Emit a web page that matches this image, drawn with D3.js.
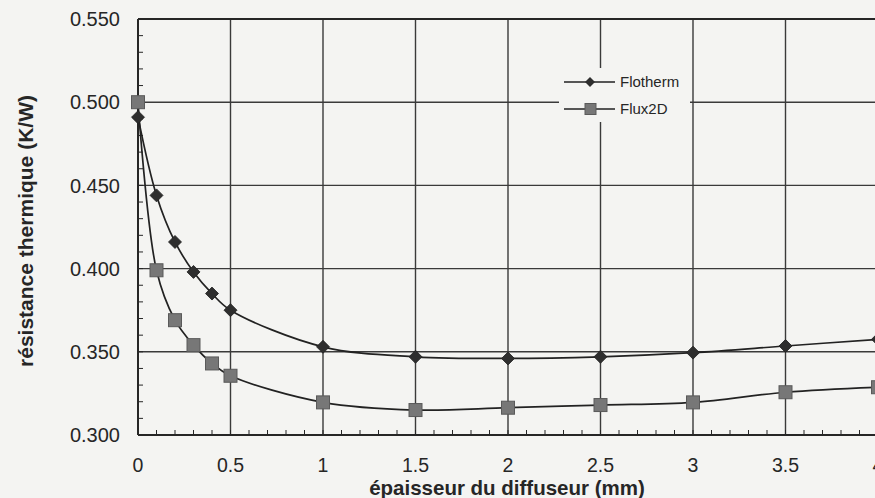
<!DOCTYPE html>
<html><head><meta charset="utf-8">
<script src="https://cdn.jsdelivr.net/npm/d3@7"></script>
<style>
html,body{margin:0;padding:0;background:#f4f4f2;}
svg{display:block;font-family:Arial,"Liberation Sans",sans-serif;}
</style></head>
<body>
<script>
const thickness = [0, 0.1, 0.2, 0.3, 0.4, 0.5, 1, 1.5, 2, 2.5, 3, 3.5, 4];
const flotherm = [0.491, 0.444, 0.416, 0.398, 0.385, 0.375, 0.353, 0.347, 0.346, 0.347, 0.3495, 0.3535, 0.3575];
const flux2d   = [0.500, 0.399, 0.369, 0.354, 0.343, 0.3356, 0.3196, 0.315, 0.3164, 0.318, 0.3196, 0.3257, 0.3287];
const seriesNames = ["Flotherm", "Flux2D"];
const xTicks = [0, 0.5, 1, 1.5, 2, 2.5, 3, 3.5, 4];
const yTicks = [0.300, 0.350, 0.400, 0.450, 0.500, 0.550];
const xTitle = "épaisseur du diffuseur (mm)";
const yTitle = "résistance thermique (K/W)";

const W = 875, H = 498;
const svg = d3.select("body").append("svg").attr("width", W).attr("height", H);
svg.append("rect").attr("width", W).attr("height", H).attr("fill", "#f4f4f2");

const x = d3.scaleLinear().domain([0, 4]).range([138, 878]);
const y = d3.scaleLinear().domain([0.300, 0.550]).range([435, 19]);
const ink = "#262626";

// grid
svg.append("g").selectAll("line").data(xTicks.slice(1)).join("line")
  .attr("x1", d => x(d)).attr("x2", d => x(d)).attr("y1", y(0.55)).attr("y2", y(0.30))
  .attr("stroke", "#3a3a3a").attr("stroke-width", 1.4);
svg.append("g").selectAll("line").data(yTicks.slice(1)).join("line")
  .attr("x1", x(0)).attr("x2", W + 5).attr("y1", d => y(d)).attr("y2", d => y(d))
  .attr("stroke", "#3a3a3a").attr("stroke-width", 1.4);

// minor ticks
const yMinor = d3.range(0.30, 0.5501, 0.01);
svg.append("g").selectAll("line").data(yMinor).join("line")
  .attr("x1", x(0)).attr("x2", x(0) + 5).attr("y1", d => y(d)).attr("y2", d => y(d))
  .attr("stroke", ink).attr("stroke-width", 1);
const xMinor = d3.range(0, 4.001, 0.1);
svg.append("g").selectAll("line").data(xMinor).join("line")
  .attr("x1", d => x(d)).attr("x2", d => x(d)).attr("y1", y(0.30)).attr("y2", y(0.30) - 5)
  .attr("stroke", ink).attr("stroke-width", 1);

// axes lines
svg.append("line").attr("x1", x(0)).attr("x2", x(0)).attr("y1", y(0.55)).attr("y2", y(0.30))
  .attr("stroke", ink).attr("stroke-width", 2);
svg.append("line").attr("x1", x(0)).attr("x2", W + 5).attr("y1", y(0.30)).attr("y2", y(0.30))
  .attr("stroke", ink).attr("stroke-width", 2);
svg.append("line").attr("x1", x(0)).attr("x2", W + 5).attr("y1", y(0.55)).attr("y2", y(0.55))
  .attr("stroke", ink).attr("stroke-width", 2);

// tick labels
svg.append("g").selectAll("text").data(yTicks).join("text")
  .attr("x", 120).attr("y", d => y(d)).attr("dy", "0.36em").attr("text-anchor", "end")
  .attr("font-size", 20).attr("fill", ink).text(d => d3.format(".3f")(d));
svg.append("g").selectAll("text").data(xTicks).join("text")
  .attr("x", d => x(d)).attr("y", 472).attr("text-anchor", "middle")
  .attr("font-size", 19.5).attr("fill", ink).text(d => d);

// titles
svg.append("text").attr("x", 507).attr("y", 495).attr("text-anchor", "middle")
  .attr("font-size", 20.5).attr("font-weight", "bold").attr("fill", ink).text(xTitle);
svg.append("text").attr("transform", "translate(25,231) rotate(-90)").attr("dy", "0.36em")
  .attr("text-anchor", "middle")
  .attr("font-size", 21).attr("font-weight", "bold").attr("fill", ink).text(yTitle);

// lines
const line = d3.line().x(d => x(d[0])).y(d => y(d[1])).curve(d3.curveCatmullRom.alpha(0.5));
const s1 = thickness.map((t, i) => [t, flotherm[i]]);
const s2 = thickness.map((t, i) => [t, flux2d[i]]);
svg.append("path").attr("d", line(s1)).attr("fill", "none").attr("stroke", "#222").attr("stroke-width", 1.7);
svg.append("path").attr("d", line(s2)).attr("fill", "none").attr("stroke", "#222").attr("stroke-width", 1.7);

const diamond = d3.symbol().type(d3.symbolSquare).size(84);
svg.append("g").selectAll("path").data(s1).join("path")
  .attr("d", diamond).attr("transform", d => `translate(${x(d[0])},${y(d[1])}) rotate(45)`)
  .attr("fill", "#2e2e2e").attr("stroke", "#222").attr("stroke-width", 0.8);
svg.append("g").selectAll("rect").data(s2).join("rect")
  .attr("x", d => x(d[0]) - 6.5).attr("y", d => y(d[1]) - 6.5).attr("width", 13).attr("height", 13)
  .attr("fill", "#777").attr("stroke", "#5a5a5a").attr("stroke-width", 1);

// legend
const lg = svg.append("g");
lg.append("rect").attr("x", 559).attr("y", 68).attr("width", 131).attr("height", 54).attr("fill", "#f4f4f2");
[[82, "d"], [109, "s"]].forEach(([ly, kind], i) => {
  lg.append("line").attr("x1", 564).attr("x2", 615).attr("y1", ly).attr("y2", ly)
    .attr("stroke", "#222").attr("stroke-width", 1.7);
  if (kind === "d") {
    lg.append("path").attr("d", d3.symbol().type(d3.symbolSquare).size(50)())
      .attr("transform", `translate(590,${ly}) rotate(45)`).attr("fill", "#2e2e2e");
  } else {
    lg.append("rect").attr("x", 585).attr("y", ly - 5.5).attr("width", 11).attr("height", 11)
      .attr("fill", "#777").attr("stroke", "#5a5a5a");
  }
  lg.append("text").attr("x", 620).attr("y", ly).attr("dy", "0.36em")
    .attr("font-size", 15).attr("fill", ink).text(seriesNames[i]);
});
</script>
</body></html>
